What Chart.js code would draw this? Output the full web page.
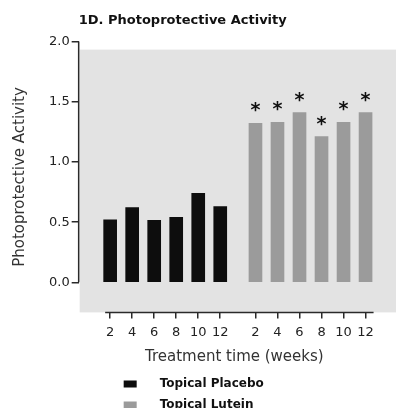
<!DOCTYPE html>
<html lang="en">
<head>
<meta charset="UTF-8">
<title>1D. Photoprotective Activity</title>
<style>
  html, body { margin: 0; padding: 0; background: #fff; }
  #wrap { width: 396px; height: 408px; }
</style>
</head>
<body>
<div id="wrap"><canvas id="grafico"></canvas></div>
<script src="https://cdn.jsdelivr.net/npm/chart.js"></script>
<script>
// dados
const semanas = [2, 4, 6, 8, 10, 12];
const placebo = [0.52, 0.62, 0.515, 0.54, 0.74, 0.63];
const luteina = [1.32, 1.33, 1.41, 1.21, 1.33, 1.41];
const marcas = ['*', '*', '*', '*', '*', '*'];
const yTicks = [0, 0.5, 1.0, 1.5, 2.0];

const FONTE = "'DejaVu Sans', sans-serif";
const GAP = 0.6; // espaco extra entre os dois grupos

const posPlacebo = semanas.map((s, i) => i + 1);
const posLuteina = semanas.map((s, i) => i + 1 + semanas.length + GAP);

// fundo cinza atras das barras
const fundo = {
  id: 'fundo',
  beforeDraw(chart) {
    const { ctx, chartArea } = chart;
    const top = chart.scales.y.getPixelForValue(2) + 8;
    ctx.save();
    ctx.fillStyle = '#e3e3e3';
    ctx.fillRect(chartArea.left + 1, top, chart.width - chartArea.left - 1, chartArea.bottom - top);
    ctx.restore();
  }
};

// linhas dos eixos (o eixo y termina no zero, o x so cobre as barras)
const eixos = {
  id: 'eixos',
  afterDraw(chart) {
    const { ctx, chartArea } = chart;
    const x = chart.scales.x, y = chart.scales.y;
    ctx.save();
    ctx.strokeStyle = '#2a2a2a';
    ctx.lineWidth = 1.5;
    ctx.beginPath();
    ctx.moveTo(chartArea.left, y.getPixelForValue(0));
    ctx.lineTo(chartArea.left, y.getPixelForValue(2));
    const t = x.ticks;
    ctx.moveTo(x.getPixelForValue(t[0].value) - 5, chartArea.bottom);
    ctx.lineTo(x.getPixelForValue(t[t.length - 1].value) + 8, chartArea.bottom);
    ctx.stroke();
    ctx.restore();
  }
};

// asteriscos de significancia
const asteriscos = {
  id: 'asteriscos',
  afterDatasetsDraw(chart) {
    const { ctx } = chart;
    const meta = chart.getDatasetMeta(1);
    ctx.save();
    ctx.fillStyle = '#111';
    ctx.font = 'bold 19px ' + FONTE;
    ctx.textAlign = 'center';
    ctx.textBaseline = 'middle';
    meta.data.forEach((bar, i) => {
      if (marcas[i]) ctx.fillText(marcas[i], bar.x, bar.y - 12);
    });
    ctx.restore();
  }
};

// legenda vertical embaixo
const legenda = {
  id: 'legenda',
  afterDraw(chart) {
    const { ctx, chartArea } = chart;
    const base = chart.scales.x.bottom;
    ctx.save();
    ctx.font = 'bold 12px ' + FONTE;
    ctx.textBaseline = 'middle';
    chart.data.datasets.forEach((ds, i) => {
      const yy = base + 16 + i * 21;
      ctx.fillStyle = ds.backgroundColor;
      ctx.fillRect(chartArea.left + 45, yy - 3.5, 13, 7);
      ctx.fillStyle = '#111';
      ctx.fillText(ds.label, chartArea.left + 81, yy);
    });
    ctx.restore();
  }
};

const ctx = document.getElementById('grafico').getContext('2d');
new Chart(ctx, {
  type: 'bar',
  data: {
    datasets: [{
      label: 'Topical Placebo',
      data: placebo.map((v, i) => ({ x: posPlacebo[i], y: v })),
      backgroundColor: '#0d0d0d',
      barThickness: 13
    }, {
      label: 'Topical Lutein',
      data: luteina.map((v, i) => ({ x: posLuteina[i], y: v })),
      backgroundColor: '#9b9b9b',
      barThickness: 13
    }]
  },
  options: {
    responsive: true,
    maintainAspectRatio: false,
    animation: false,
    grouped: false,
    layout: { padding: { left: 4, right: 6, top: 0, bottom: 40 } },
    plugins: {
      legend: { display: false },
      tooltip: { enabled: false },
      title: {
        display: true,
        text: '1D. Photoprotective Activity',
        align: 'start',
        fullSize: false,
        color: '#111',
        font: { family: FONTE, size: 13, weight: 'bold' },
        padding: { top: 13, bottom: 13 }
      }
    },
    scales: {
      x: {
        type: 'linear',
        min: -0.43,
        max: 13.71,
        offset: false,
        afterBuildTicks: s => { s.ticks = [...posPlacebo, ...posLuteina].map(v => ({ value: v })); },
        ticks: {
          autoSkip: false,
          maxRotation: 0,
          padding: 6,
          color: '#222',
          font: { family: FONTE, size: 13 },
          callback: (v, i) => semanas[i % semanas.length]
        },
        grid: { drawOnChartArea: false, offset: false, tickLength: 6, color: '#2a2a2a', lineWidth: 1.5 },
        border: { display: false },
        title: {
          display: true,
          text: 'Treatment time (weeks)',
          color: '#333',
          font: { family: FONTE, size: 15 },
          padding: { top: 2, bottom: 2 }
        }
      },
      y: {
        min: -0.25,
        max: 2.0,
        afterBuildTicks: s => { s.ticks = yTicks.map(v => ({ value: v })); },
        ticks: {
          padding: 2,
          color: '#222',
          font: { family: FONTE, size: 13 },
          callback: v => v.toFixed(1)
        },
        grid: { drawOnChartArea: false, tickLength: 7, color: '#2a2a2a', lineWidth: 1.5 },
        border: { display: false },
        title: {
          display: true,
          text: 'Photoprotective Activity',
          color: '#333',
          font: { family: FONTE, size: 15 },
          padding: { top: 7, bottom: 18 }
        }
      }
    }
  },
  plugins: [fundo, eixos, asteriscos, legenda]
});
</script>
</body>
</html>
